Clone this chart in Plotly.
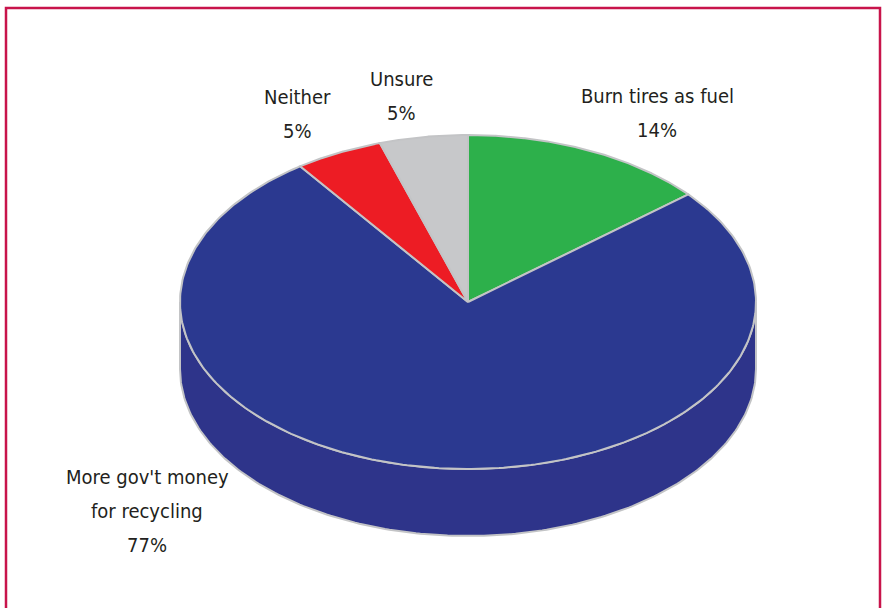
import numpy as np
import plotly.graph_objects as go

# ---- data ----
labels = ["Burn tires as fuel", "More gov't money<br>for recycling", "Neither", "Unsure"]
values = [14, 77, 5, 5]
pct_text = ["14%", "77%", "5%", "5%"]
top_colors = ["#2DB04B", "#2B3990", "#ED1C24", "#C7C8CA"]
side_colors = ["#24913C", "#2E348A", "#C4171E", "#A6A7A9"]

# ---- geometry (pixel-like coordinate system) ----
W, H = 882, 608
cx, cy = 468, 302
rx, ry = 288, 167
depth = 67
edge = "#C3C4C6"


def pt(t_deg, dy=0.0):
    t = np.radians(t_deg)
    return cx + rx * np.sin(t), cy - ry * np.cos(t) + dy


total = float(sum(values))
starts = np.cumsum([0] + values[:-1]) / total * 360.0
ends = np.cumsum(values) / total * 360.0

fig = go.Figure()

# side walls (front half: param angle 90..270)
for i, (a0, a1) in enumerate(zip(starts, ends)):
    s0, s1 = max(a0, 90.0), min(a1, 270.0)
    if s1 <= s0:
        continue
    ts = np.linspace(s0, s1, 200)
    xs_t, ys_t = pt(ts)
    xs_b, ys_b = pt(ts[::-1], depth)
    xs = np.concatenate([xs_t, xs_b, xs_t[:1]])
    ys = np.concatenate([ys_t, ys_b, ys_t[:1]])
    fig.add_trace(go.Scatter(x=xs, y=ys, fill="toself", fillcolor=side_colors[i],
                             mode="lines", line=dict(color=edge, width=2),
                             hoverinfo="skip", showlegend=False))

# top slices
for i, (a0, a1) in enumerate(zip(starts, ends)):
    ts = np.linspace(a0, a1, 300)
    xa, ya = pt(ts)
    xs = np.concatenate([[cx], xa, [cx]])
    ys = np.concatenate([[cy], ya, [cy]])
    fig.add_trace(go.Scatter(x=xs, y=ys, fill="toself", fillcolor=top_colors[i],
                             mode="lines", line=dict(color=edge, width=2),
                             hoverinfo="text", text=labels[i].replace("<br>", " ") + " " + pct_text[i],
                             showlegend=False))

# ---- labels ----
label_pos = [(657, 96), (147, 477), (297, 97), (401, 79)]
line_gap = 34
font = dict(family="DejaVu Sans Condensed, Liberation Sans Narrow, Arial Narrow, sans-serif",
            size=20, color="#231F20")
for i, (lx, ly) in enumerate(label_pos):
    lines = labels[i].split("<br>") + [pct_text[i]]
    for k, ln in enumerate(lines):
        fig.add_annotation(x=lx, y=ly + k * line_gap, text=ln, showarrow=False,
                           xref="x", yref="y", xanchor="center", yanchor="middle", font=font)

# frame
fig.add_shape(type="rect", xref="x", yref="y", x0=6, y0=8, x1=880, y1=640,
              line=dict(color="#C8144B", width=2.5), fillcolor="rgba(0,0,0,0)", layer="above")

fig.update_layout(
    width=W, height=H,
    margin=dict(l=0, r=0, t=0, b=0),
    paper_bgcolor="white", plot_bgcolor="white",
    xaxis=dict(range=[0, W], visible=False, fixedrange=True),
    yaxis=dict(range=[H, 0], visible=False, fixedrange=True),
)

fig.write_html("out.html", config={"displayModeBar": False},
               post_script="document.body.style.margin='0';document.body.style.overflow='hidden';")
